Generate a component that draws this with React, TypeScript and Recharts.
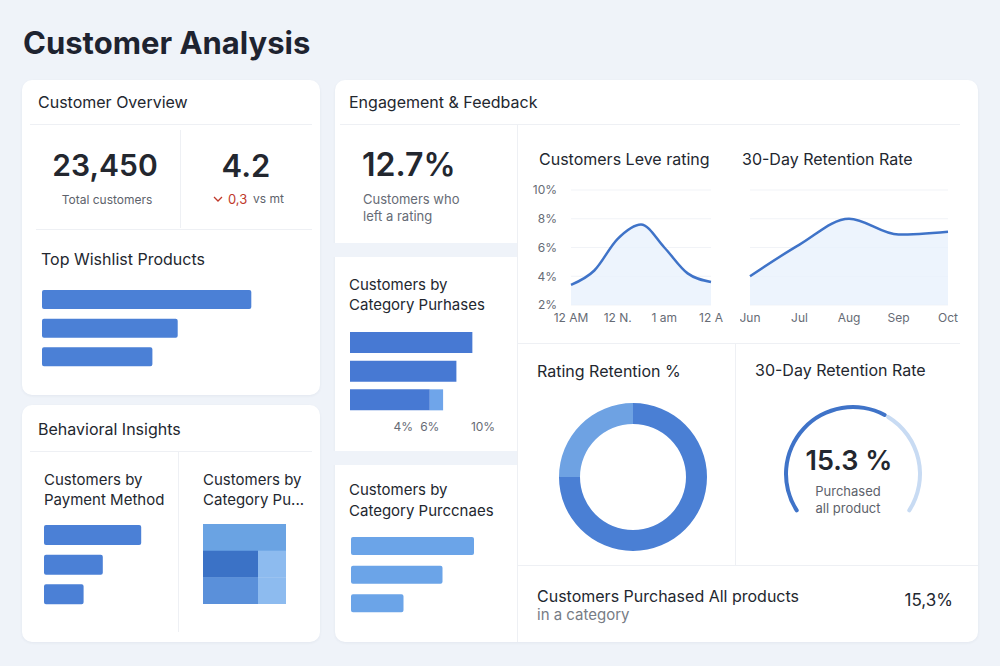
import React from 'react'
import {
    BarChart,
    Bar,
    XAxis,
    YAxis,
    Cell,
    AreaChart,
    Area,
    CartesianGrid,
    PieChart,
    Pie
} from 'recharts'

// --- data ---
const wishlistProducts = ['Product A', 'Product B', 'Product C']
const wishlistValues = [91, 59, 48]

const paymentMethods = ['Card', 'Wallet', 'Cash']
const paymentValues = [81, 49, 33]

const blockRows = ['Top', 'Middle', 'Bottom']
const blockLeft = [83, 55, 55]
const blockRight = [0, 28, 28]
const blockLeftColors = ['#6aa3e3', '#3b72c6', '#5a90da']

const purchaseCategories = ['Cat 1', 'Cat 2', 'Cat 3']
const purchaseBase = [9.2, 8.0, 6.0]
const purchaseExtra = [0, 0, 1.0]
const purchaseTicks = [4, 6, 10]

const purccnaeCategories = ['Cat 1', 'Cat 2', 'Cat 3']
const purccnaeValues = [82, 61, 35]

const ratingHours = ['12 AM', ' ', '12 N.', '  ', '1 am', '   ', '12 A']
const ratingValues = [3.4, 4.4, 6.6, 7.6, 6.0, 4.2, 3.6]

const retentionMonths = ['Jun', 'Jul', 'Aug', 'Sep', 'Oct']
const retentionValues = [4.0, 6.2, 8.0, 6.9, 7.1]

const percentTicks = [2, 4, 6, 8, 10]

const ratingRetentionNames = ['Other', 'Retained']
const ratingRetentionValues = [25, 75]
const ratingRetentionColors = ['#6ea2e3', '#4a7fd4']

const gaugeNames = ['Done', 'Rest']
const gaugeValues = [62, 38]
const gaugeColors = ['#3f73c8', '#c8dbf3']

const BLUE = '#4b80d6'
const TEXT = '#23272f'

type TProps = {
    x: number
    y: number
    size: number
    weight?: number
    color?: string
    align?: 'left' | 'center' | 'right'
    children: React.ReactNode
}

// text positioned by its vertical centre
function T({ x, y, size, weight = 400, color = TEXT, align = 'left', children }: TProps) {
    const tx = align === 'center' ? '-50%' : align === 'right' ? '-100%' : '0'
    return (
        <div
            style={{
                position: 'absolute',
                left: x,
                top: y,
                transform: `translate(${tx}, -50%)`,
                fontSize: size,
                fontWeight: weight,
                color,
                lineHeight: `${Math.round(size * 1.2)}px`,
                whiteSpace: 'nowrap'
            }}
        >
            {children}
        </div>
    )
}

function Box({ x, y, w, h, bg = '#fff', radius = 10, shadow = true }: any) {
    return (
        <div
            style={{
                position: 'absolute',
                left: x,
                top: y,
                width: w,
                height: h,
                background: bg,
                borderRadius: radius,
                boxShadow: shadow ? '0 1px 3px rgba(30,50,90,0.06)' : 'none'
            }}
        />
    )
}

function HLine({ x, y, w }: any) {
    return <div style={{ position: 'absolute', left: x, top: y, width: w, height: 1, background: '#eef0f4' }} />
}

function VLine({ x, y, h }: any) {
    return <div style={{ position: 'absolute', left: x, top: y, width: 1, height: h, background: '#eef0f4' }} />
}

type HBarsProps = {
    x: number
    y: number
    width: number
    height: number
    names: string[]
    values: number[]
    color: string
    max: number
    barSize: number
}

function HBars({ x, y, width, height, names, values, color, max, barSize }: HBarsProps) {
    const data = names.map((name, i) => ({ name, value: values[i] }))
    return (
        <div style={{ position: 'absolute', left: x, top: y }}>
            <BarChart
                width={width}
                height={height}
                data={data}
                layout="vertical"
                margin={{ top: 0, right: 0, bottom: 0, left: 0 }}
            >
                <XAxis type="number" domain={[0, max]} hide />
                <YAxis type="category" dataKey="name" hide />
                <Bar dataKey="value" fill={color} radius={2} barSize={barSize} isAnimationActive={false} />
            </BarChart>
        </div>
    )
}

export default function App() {
    const blockData = blockRows.map((name, i) => ({ name, left: blockLeft[i], right: blockRight[i] }))
    const purchaseData = purchaseCategories.map((name, i) => ({
        name,
        base: purchaseBase[i],
        extra: purchaseExtra[i]
    }))
    const ratingData = ratingHours.map((hour, i) => ({ hour, value: ratingValues[i] }))
    const retentionData = retentionMonths.map((month, i) => ({ month, value: retentionValues[i] }))
    const donutData = ratingRetentionNames.map((name, i) => ({ name, value: ratingRetentionValues[i] }))
    const gaugeData = gaugeNames.map((name, i) => ({ name, value: gaugeValues[i] }))

    const tickStyle = { fontSize: 12, fill: '#666b75' }

    return (
        <div
            style={{
                position: 'absolute',
                left: 0,
                top: 0,
                width: 1000,
                height: 666,
                background: '#eff3f9',
                fontFamily: 'Inter, "Noto Sans", sans-serif',
                overflow: 'hidden'
            }}
        >
            <T x={23} y={42} size={31} weight={700} color="#1e2330">Customer Analysis</T>

            {/* Customer Overview */}
            <Box x={22} y={80} w={298} h={315} />
            <T x={38} y={102} size={16}>Customer Overview</T>
            <HLine x={30} y={124} w={282} />
            <VLine x={180} y={130} h={98} />
            <HLine x={36} y={229} w={276} />
            <T x={105} y={165} size={30} weight={600} align="center">23,450</T>
            <T x={107} y={200} size={12} color="#5d626b" align="center">Total customers</T>
            <T x={246} y={165} size={31} weight={600} align="center">4.2</T>
            <svg width={10} height={10} style={{ position: 'absolute', left: 213, top: 194, display: 'block' }}>
                <polyline points="1,3 5,7 9,3" fill="none" stroke="#c0392b" strokeWidth={1.3} />
            </svg>
            <T x={228} y={199} size={13} color="#c0392b">0,3</T>
            <T x={253} y={199} size={12} color="#5d626b">vs mt</T>
            <T x={41} y={259} size={16}>Top Wishlist Products</T>
            <HBars x={42} y={285} width={230} height={86} names={wishlistProducts}
                values={wishlistValues} color={BLUE} max={100} barSize={19} />

            {/* Behavioral Insights */}
            <Box x={22} y={405} w={298} h={237} />
            <T x={38} y={429} size={16}>Behavioral Insights</T>
            <HLine x={30} y={451} w={282} />
            <VLine x={178} y={452} h={180} />
            <T x={44} y={480} size={15}>Customers by</T>
            <T x={44} y={500} size={15}>Payment Method</T>
            <HBars x={44} y={520} width={120} height={89} names={paymentMethods}
                values={paymentValues} color={BLUE} max={100} barSize={20} />
            <T x={203} y={480} size={15}>Customers by</T>
            <T x={203} y={500} size={15}>Category Pu...</T>
            <div style={{ position: 'absolute', left: 203, top: 524 }}>
                <BarChart width={83} height={80} data={blockData} layout="vertical" barCategoryGap={0}
                    margin={{ top: 0, right: 0, bottom: 0, left: 0 }}>
                    <XAxis type="number" domain={[0, 83]} hide />
                    <YAxis type="category" dataKey="name" hide />
                    <Bar dataKey="left" stackId="a" isAnimationActive={false}>
                        {blockData.map((d, i) => <Cell key={d.name} fill={blockLeftColors[i]} />)}
                    </Bar>
                    <Bar dataKey="right" stackId="a" fill="#8dbbef" isAnimationActive={false} />
                </BarChart>
            </div>

            {/* Engagement & Feedback */}
            <Box x={335} y={80} w={643} h={562} />
            <div style={{ position: 'absolute', left: 333, top: 243, width: 184, height: 14, background: '#eff3f9' }} />
            <div style={{ position: 'absolute', left: 333, top: 451, width: 184, height: 14, background: '#eff3f9' }} />
            <T x={349} y={102} size={16}>Engagement &amp; Feedback</T>
            <HLine x={340} y={124} w={620} />
            <VLine x={517} y={125} h={517} />
            <HLine x={517} y={343} w={443} />
            <VLine x={735} y={344} h={221} />
            <HLine x={517} y={565} w={461} />

            <T x={362} y={165} size={32} weight={600}>12.7%</T>
            <T x={363} y={199} size={13} color="#666b75">Customers who</T>
            <T x={363} y={216} size={13} color="#666b75">left a rating</T>

            <T x={349} y={285} size={15}>Customers by</T>
            <T x={349} y={305} size={15}>Category Purhases</T>
            <div style={{ position: 'absolute', left: 350, top: 328 }}>
                <BarChart width={150} height={116} data={purchaseData} layout="vertical"
                    margin={{ top: 0, right: 17, bottom: 0, left: 0 }}>
                    <XAxis type="number" domain={[0, 10]} ticks={purchaseTicks} interval={0}
                        tickFormatter={(v) => `${v}%`} axisLine={false} tickLine={false}
                        tick={tickStyle} height={30} />
                    <YAxis type="category" dataKey="name" hide />
                    <Bar dataKey="base" stackId="p" fill="#4779d3" barSize={21} isAnimationActive={false} />
                    <Bar dataKey="extra" stackId="p" fill="#6fa5ea" barSize={21} isAnimationActive={false} />
                </BarChart>
            </div>

            <T x={349} y={490} size={15}>Customers by</T>
            <T x={349} y={511} size={15}>Category Purccnaes</T>
            <HBars x={351} y={532} width={150} height={86} names={purccnaeCategories}
                values={purccnaeValues} color="#6ba4e8" max={100} barSize={18} />

            {/* line charts */}
            <T x={539} y={159} size={16}>Customers Leve rating</T>
            <div style={{ position: 'absolute', left: 520, top: 180 }}>
                <AreaChart width={210} height={150} data={ratingData}
                    margin={{ top: 10, right: 19, bottom: 0, left: 0 }}>
                    <CartesianGrid vertical={false} stroke="#f1f3f7" />
                    <XAxis dataKey="hour" interval={0} axisLine={false} tickLine={false}
                        tick={tickStyle} height={25} />
                    <YAxis domain={[2, 10]} ticks={percentTicks} tickFormatter={(v) => `${v}%`}
                        axisLine={false} tickLine={false} tick={tickStyle} width={51} tickMargin={8} />
                    <Area type="monotone" dataKey="value" stroke="#3f73c8" strokeWidth={2.5}
                        fill="#e9f1fc" fillOpacity={0.8} baseValue={2} isAnimationActive={false} />
                </AreaChart>
            </div>

            <T x={742} y={159} size={16}>30-Day Retention Rate</T>
            <div style={{ position: 'absolute', left: 740, top: 180 }}>
                <AreaChart width={222} height={150} data={retentionData}
                    margin={{ top: 10, right: 14, bottom: 0, left: 10 }}>
                    <CartesianGrid vertical={false} stroke="#f1f3f7" />
                    <XAxis dataKey="month" interval={0} axisLine={false} tickLine={false}
                        tick={tickStyle} height={25} />
                    <YAxis domain={[2, 10]} ticks={percentTicks} hide />
                    <Area type="monotone" dataKey="value" stroke="#3f73c8" strokeWidth={2.5}
                        fill="#e9f1fc" fillOpacity={0.8} baseValue={2} isAnimationActive={false} />
                </AreaChart>
            </div>

            {/* donut */}
            <T x={537} y={371} size={16}>Rating Retention %</T>
            <div style={{ position: 'absolute', left: 548, top: 392 }}>
                <PieChart width={160} height={160}>
                    <Pie data={donutData} dataKey="value" cx={80} cy={80} innerRadius={53} outerRadius={74}
                        startAngle={90} endAngle={450} stroke="none" isAnimationActive={false}>
                        {donutData.map((d, i) => <Cell key={d.name} fill={ratingRetentionColors[i]} />)}
                    </Pie>
                </PieChart>
            </div>

            {/* gauge */}
            <T x={755} y={370} size={16}>30-Day Retention Rate</T>
            <div style={{ position: 'absolute', left: 768, top: 389 }}>
                <PieChart width={160} height={160}>
                    <Pie data={gaugeData} dataKey="value" cx={80} cy={80} innerRadius={65} outerRadius={69}
                        startAngle={214.6} endAngle={-34.6} stroke="none" cornerRadius={2}
                        isAnimationActive={false}>
                        {gaugeData.map((d, i) => <Cell key={d.name} fill={gaugeColors[i]} />)}
                    </Pie>
                </PieChart>
            </div>
            <T x={849} y={461} size={27} weight={600} align="center">15.3 %</T>
            <T x={848} y={491} size={13} color="#5d626b" align="center">Purchased</T>
            <T x={848} y={508} size={13} color="#5d626b" align="center">all product</T>

            <T x={537} y={596} size={16}>Customers Purchased All products</T>
            <T x={537} y={615} size={15} color="#777c85">in a category</T>
            <T x={953} y={600} size={17} align="right">15,3%</T>
        </div>
    )
}
